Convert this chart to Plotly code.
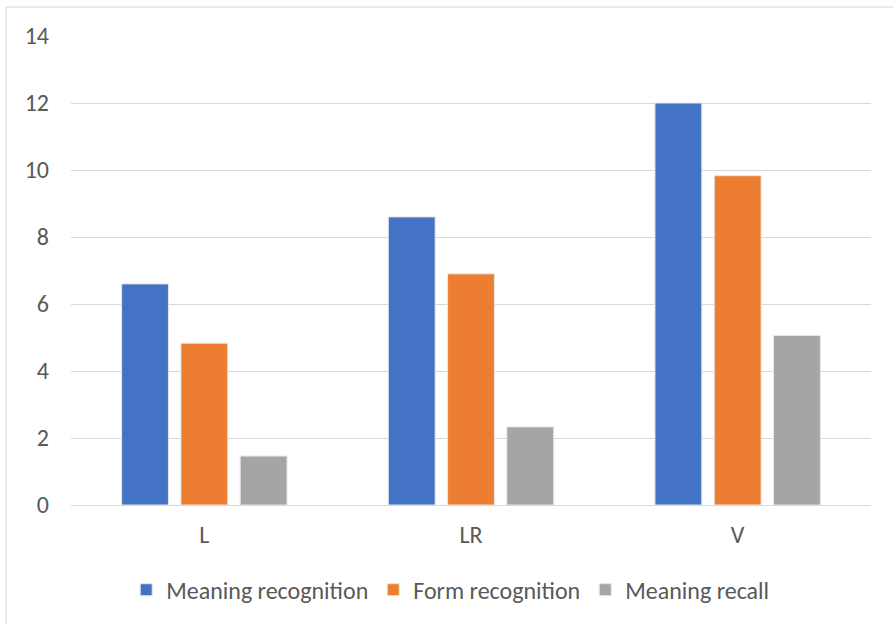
import plotly.graph_objects as go

categories = ["L", "LR", "V"]
meaning_recognition = [6.6, 8.6, 12.0]
form_recognition = [4.83, 6.9, 9.83]
meaning_recall = [1.46, 2.33, 5.06]
series_names = ["Meaning recognition", "Form recognition", "Meaning recall"]
colors = ["#4472C4", "#ED7D31", "#A5A5A5"]
y_ticks = [0, 2, 4, 6, 8, 10, 12, 14]

FONT = "Carlito, Lato, 'Open Sans', sans-serif"

fig = go.Figure()
for name, vals, c in zip(series_names, [meaning_recognition, form_recognition, meaning_recall], colors):
    fig.add_trace(go.Bar(x=categories, y=vals, name=name, marker=dict(color=c, line=dict(color="#e6e6e6", width=1))))

fig.update_layout(
    width=893, height=624,
    margin=dict(l=71, r=22, t=36, b=118),
    paper_bgcolor="white", plot_bgcolor="white",
    barmode="group", bargap=0.333, bargroupgap=0.21,
    font=dict(family=FONT, size=24, color="#595959"),
    showlegend=True,
    legend=dict(orientation="h", x=0.474, xanchor="center", y=-0.179, yanchor="middle",
                font=dict(size=24, color="#595959"), itemwidth=30, tracegroupgap=0),
    xaxis=dict(showgrid=False, showline=True, linecolor="#d9d9d9", linewidth=1, ticks="",
               tickfont=dict(size=24), ticklabelstandoff=8),
    yaxis=dict(range=[0, 14], tickvals=y_ticks, showgrid=True, gridcolor="#d9d9d9", gridwidth=1,
               zeroline=False, showline=False, ticks="", tickfont=dict(size=24), ticklabelstandoff=21),
    shapes=[dict(type="rect", xref="paper", yref="paper", x0=-0.08125, x1=1.2, y0=-0.4, y1=1.0617,
                 line=dict(color="#d9d9d9", width=1), fillcolor="rgba(0,0,0,0)", layer="below")],
)

fig.write_html("out.html")
